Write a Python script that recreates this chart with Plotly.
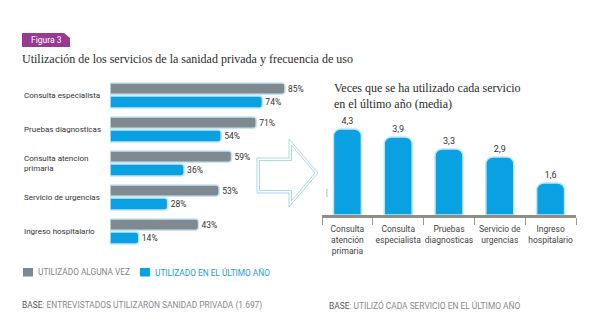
import plotly.graph_objects as go

# ---- data ----
servicios = ["Consulta especialista", "Pruebas diagnosticas", "Consulta atencion<br>primaria",
             "Servicio de urgencias", "Ingreso hospitalario"]
alguna_vez = [85, 71, 59, 53, 43]
ultimo_ano = [74, 54, 36, 28, 14]

servicios_media = ["Consulta<br>atención<br>primaria", "Consulta<br>especialista", "Pruebas<br>diagnosticas",
                   "Servicio de<br>urgencias", "Ingreso<br>hospitalario"]
veces_media = [4.3, 3.9, 3.3, 2.9, 1.6]

GRIS = "#7f898f"
AZUL = "#0aa1e2"
HALO = "#c3e5f6"
W, H = 600, 336
SANS = "Roboto, sans-serif"
SERIF = "Liberation Serif, serif"


def px(x):
    return x / W


def py(y):
    return 1 - y / H


fig = go.Figure()

# left panel: horizontal grouped bars
fig.add_trace(go.Bar(
    y=servicios, x=alguna_vez, orientation="h", name="UTILIZADO ALGUNA VEZ",
    marker=dict(color=GRIS, line=dict(color=HALO, width=1.5), cornerradius=3),
    width=0.33, offset=-0.37,
    texttemplate="%{x}%", textposition="outside", cliponaxis=False,
    textfont=dict(family=SANS, size=8.5, color="#333"),
    xaxis="x", yaxis="y", showlegend=False,
))
fig.add_trace(go.Bar(
    y=servicios, x=ultimo_ano, orientation="h", name="UTILIZADO EN EL ÚLTIMO AÑO",
    marker=dict(color=AZUL, line=dict(color=HALO, width=1.5), cornerradius=3),
    width=0.35, offset=0.015,
    texttemplate="%{x}%", textposition="outside", cliponaxis=False,
    textfont=dict(family=SANS, size=8.5, color="#333"),
    xaxis="x", yaxis="y", showlegend=False,
))

# right panel: mean number of uses
fig.add_trace(go.Bar(
    x=servicios_media, y=veces_media,
    marker=dict(color=AZUL, line=dict(color=HALO, width=1.5), cornerradius=7),
    width=0.55,
    texttemplate="%{y:.1f}", textposition="outside", cliponaxis=False,
    textfont=dict(family=SANS, size=9, color="#333"),
    xaxis="x2", yaxis="y2", showlegend=False,
))

annotations = []
# left-aligned category labels
for s in servicios:
    annotations.append(dict(
        x=px(22), xref="paper", y=s, yref="y", text=s, showarrow=False,
        xanchor="left", yanchor="middle", align="left",
        font=dict(family=SANS, size=8, color="#333"),
    ))

annotations += [
    dict(x=px(29), y=py(40), xref="paper", yref="paper", text="Figura 3", showarrow=False,
         xanchor="left", yanchor="middle", font=dict(family=SANS, size=8.5, color="white")),
    dict(x=px(20), y=py(59), xref="paper", yref="paper",
         text="Utilización de los servicios de la sanidad privada y frecuencia de uso",
         showarrow=False, xanchor="left", yanchor="middle",
         font=dict(family=SERIF, size=12, color="#2b2b2b")),
    dict(x=px(332), y=py(96), xref="paper", yref="paper",
         text="Veces que se ha utilizado cada servicio<br>en el último año (media)",
         showarrow=False, xanchor="left", yanchor="middle", align="left",
         font=dict(family=SERIF, size=12, color="#2b2b2b")),
    dict(x=px(327), y=py(194), xref="paper", yref="paper", text="[", showarrow=False,
         xanchor="center", yanchor="middle", font=dict(family=SANS, size=7, color="#999")),
    # legend
    dict(x=px(36), y=py(272), xref="paper", yref="paper", text="UTILIZADO ALGUNA VEZ",
         showarrow=False, xanchor="left", yanchor="middle",
         font=dict(family=SANS, size=8.3, color="#858585")),
    dict(x=px(153), y=py(272), xref="paper", yref="paper", text="UTILIZADO EN EL ÚLTIMO AÑO",
         showarrow=False, xanchor="left", yanchor="middle",
         font=dict(family=SANS, size=8.3, color="#1d9bd8")),
    # sources
    dict(x=px(20), y=py(305), xref="paper", yref="paper",
         text="<span style='color:#5a5a5a'>BASE</span>: ENTREVISTADOS UTILIZARON SANIDAD PRIVADA (1.697)",
         showarrow=False, xanchor="left", yanchor="middle",
         font=dict(family=SANS, size=8.4, color="#8a8a8a")),
    dict(x=px(327), y=py(305), xref="paper", yref="paper",
         text="<span style='color:#5a5a5a'>BASE</span>: UTILIZÓ CADA SERVICIO EN EL ÚLTIMO AÑO",
         showarrow=False, xanchor="left", yanchor="middle",
         font=dict(family=SANS, size=8.4, color="#8a8a8a")),
]


def path(points):
    pts = [f"{px(x):.5f},{py(y):.5f}" for x, y in points]
    return "M" + " L".join(pts) + " Z"


arrow_outer = [(257, 158), (289, 158), (289, 139), (318, 173), (289, 207), (289, 193), (257, 193)]
arrow_inner = [(259.5, 160.5), (291.5, 160.5), (291.5, 145), (315, 173), (291.5, 201), (291.5, 190.5), (259.5, 190.5)]

shapes = [
    # "Figura 3" badge
    dict(type="path", xref="paper", yref="paper",
         path=path([(22, 33), (64, 33), (70, 38), (70, 47), (22, 47)]),
         fillcolor="#963a92", line=dict(width=0)),
    # arrow connecting both panels
    dict(type="path", xref="paper", yref="paper", path=path(arrow_outer),
         line=dict(color="#a9d8f0", width=1)),
    dict(type="path", xref="paper", yref="paper", path=path(arrow_inner),
         line=dict(color="#a9d8f0", width=1)),
    # legend swatches
    dict(type="rect", xref="paper", yref="paper", x0=px(23), x1=px(33), y0=py(276.5), y1=py(268),
         fillcolor=GRIS, line=dict(width=0)),
    dict(type="rect", xref="paper", yref="paper", x0=px(140), x1=px(150), y0=py(276.5), y1=py(268),
         fillcolor=AZUL, line=dict(width=0)),
]

fig.update_layout(
    width=W, height=H,
    margin=dict(l=0, r=0, t=0, b=0),
    paper_bgcolor="white", plot_bgcolor="white",
    separators=",.",
    barmode="overlay",
    annotations=annotations,
    shapes=shapes,
    xaxis=dict(domain=[px(110), px(110 + 205.9)], range=[0, 100], visible=False, fixedrange=True),
    yaxis=dict(domain=[py(248.5), py(78.5)], autorange="reversed", visible=False,
               type="category", fixedrange=True),
    xaxis2=dict(domain=[px(322), px(576)], anchor="y2", type="category",
                showline=True, linecolor="#8e8e86", linewidth=3,
                ticks="outside", tickson="boundaries", ticklen=7, tickcolor="#9a9a9a", tickwidth=1,
                tickangle=0, ticklabelstandoff=4,
                tickfont=dict(family=SANS, size=8.5, color="#444"), showgrid=False, fixedrange=True),
    yaxis2=dict(domain=[py(215), py(115)], anchor="x2", range=[0, 5], visible=False, fixedrange=True),
)

fig.write_html("out.html")
